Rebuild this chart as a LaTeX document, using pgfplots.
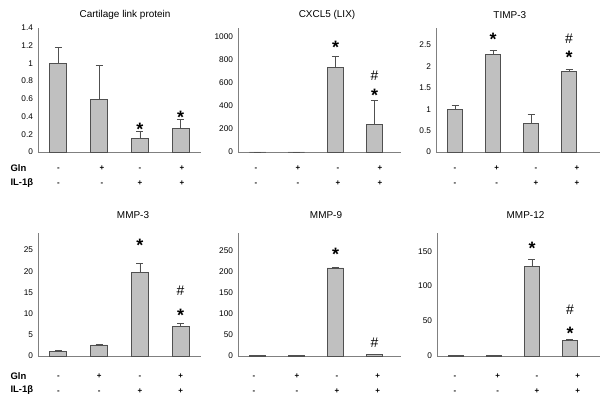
\documentclass[border=0pt]{standalone}
\usepackage{fontspec}
\setmainfont{Liberation Sans}
\usepackage{pgfplots}
\pgfplotsset{compat=1.18}
\definecolor{barfill}{HTML}{C0C0C0}
\definecolor{bardraw}{HTML}{505050}
\definecolor{axisgray}{HTML}{808080}
\pgfplotsset{
 panel/.style={
  scale only axis,
  axis x line=bottom, axis y line=left,
  axis line style={-, draw=axisgray, line width=0.8bp},
  ymin=0, xmin=-0.5,
  major tick length=0pt,
  tick style={draw=none},
  /pgf/number format/assume math mode=true,
  /pgf/number format/1000 sep={},
  yticklabel style={font=\fontsize{8.3}{9}\selectfont, xshift=-1.5bp},
  xticklabel style={font=\bfseries\fontsize{8}{15}\selectfont, align=center, anchor=north},
  xticklabels={{\vphantom{+}-\\-},{\vphantom{+}+\\-},{\vphantom{+}-\\+},{\vphantom{+}+\\+}},
  title style={font=\fontsize{10}{11}\selectfont, anchor=center},
  clip=false,
 },
 toprow/.style={height=124bp, xticklabel style={yshift=-10.8bp}, title style={yshift=7bp}},
 botrow/.style={height=123bp, xticklabel style={yshift=-14.5bp}, title style={yshift=12bp}},
 bars/.style={ybar, bar width=#1, fill=barfill, draw=bardraw, line width=0.8bp,
   error bars/.cd, y dir=plus, y explicit,
   error bar style={draw=bardraw, line width=0.7bp},
   error mark options={rotate=90, mark size=3.5bp, line width=0.7bp, draw=bardraw}},
 stars/.style={draw=none, mark=none, nodes near coords={*},
   every node near coord/.style={anchor=center, text=black, inner sep=0pt, font=\bfseries\fontsize{18}{18}\selectfont, yshift=-3.5bp}},
 hashes/.style={draw=none, mark=none, nodes near coords={\#},
   every node near coord/.style={anchor=center, text=black, inner sep=0pt, font=\fontsize{14}{14}\selectfont}},
}
\begin{document}
\begin{tikzpicture}
\useasboundingbox (0,0) rectangle (600bp,404bp);
% ---------- Cartilage link protein
\begin{axis}[panel, toprow, at={(38bp,252bp)}, anchor=south west, width=163bp,
  xmax=3.5, ymax=1.4, ytick={0,0.2,0.4,0.6,0.8,1,1.2,1.4},
  xtick={0,1.07,2,3.03},
  title={Cartilage link protein}, title style={at={(axis description cs:0.534,1)}}]
\addplot[bars=17bp] table[x=x, y=y, y error=e] {
x y e
0 1.00 0.18
1 0.59 0.39
2 0.15 0.08
3 0.27 0.10
};
\addplot[stars] coordinates {(2,0.30) (3,0.43)};
\end{axis}
% ---------- CXCL5 (LIX)
\begin{axis}[panel, toprow, at={(238bp,252bp)}, anchor=south west, width=163bp,
  xmax=3.68, ymax=1075, ytick={0,200,400,600,800,1000},
  xtick={-0.04,1.04,2.06,3.14},
  title={CXCL5 (LIX)}, title style={at={(axis description cs:0.546,1)}}]
\addplot[bars=16.5bp] table[x=x, y=y, y error=e] {
x y e
0 0 0
1 0 0
2 730 100
3 242 205
};
\addplot[stars] coordinates {(2,942) (3,525)};
\addplot[hashes] coordinates {(3,663)};
\end{axis}
% ---------- TIMP-3
\begin{axis}[panel, toprow, at={(436bp,252bp)}, anchor=south west, width=164bp,
  xmax=3.816, ymax=2.9, ytick={0,0.5,1,1.5,2,2.5},
  xtick={0,1.1,2.13,3.21},
  title={TIMP-3}, title style={at={(axis description cs:0.45,1)}}]
\addplot[bars=15.5bp] table[x=x, y=y, y error=e] {
x y e
0 1.00 0.08
1 2.29 0.08
2 0.67 0.20
3 1.89 0.05
};
\addplot[stars] coordinates {(1,2.71) (3,2.30)};
\addplot[hashes] coordinates {(3,2.64)};
\end{axis}
% ---------- MMP-3
\begin{axis}[panel, botrow, at={(38bp,48bp)}, anchor=south west, width=163bp,
  xmax=3.5, ymax=29, ytick={0,5,10,15,20,25},
  xtick={0,1,2,3},
  title={MMP-3}, title style={at={(axis description cs:0.583,1)}}]
\addplot[bars=17bp] table[x=x, y=y, y error=e] {
x y e
0 1.0 0.4
1 2.6 0.15
2 19.7 2.2
3 6.9 0.8
};
\addplot[stars] coordinates {(2,27) (3,10.5)};
\addplot[hashes] coordinates {(3,15.4)};
\end{axis}
% ---------- MMP-9
\begin{axis}[panel, botrow, at={(238bp,48bp)}, anchor=south west, width=163bp,
  xmax=3.68, ymax=292, ytick={0,50,100,150,200,250},
  xtick={-0.09,1.01,2.04,3.08},
  title={MMP-9}, title style={at={(axis description cs:0.54,1)}}]
\addplot[bars=16.5bp] table[x=x, y=y, y error=e] {
x y e
0 1.0 0.5
1 0.5 0.2
2 209 1.5
3 4 1
};
\addplot[stars] coordinates {(2,250)};
\addplot[hashes] coordinates {(3,32)};
\end{axis}
% ---------- MMP-12
\begin{axis}[panel, botrow, at={(437bp,48bp)}, anchor=south west, width=163bp,
  xmax=3.79, ymax=176, ytick={0,50,100,150},
  xtick={-0.03,1.1,2.13,3.2},
  title={MMP-12}, title style={at={(axis description cs:0.543,1)}}]
\addplot[bars=15.5bp] table[x=x, y=y, y error=e] {
x y e
0 1.0 0.3
1 1.0 0.3
2 128.6 10
3 21.9 2.4
};
\addplot[stars] coordinates {(2,159.5) (3,38)};
\addplot[hashes] coordinates {(3,66.7)};
\end{axis}
% ---------- row labels
\node[anchor=west, font=\bfseries\fontsize{9.5}{10}\selectfont] at (7bp,236bp) {Gln};
\node[anchor=west, font=\bfseries\fontsize{9.5}{10}\selectfont] at (7bp,221bp) {IL-1β};
\node[anchor=west, font=\bfseries\fontsize{9.5}{10}\selectfont] at (7bp,28bp) {Gln};
\node[anchor=west, font=\bfseries\fontsize{9.5}{10}\selectfont] at (7bp,14bp) {IL-1β};
\end{tikzpicture}
\end{document}
